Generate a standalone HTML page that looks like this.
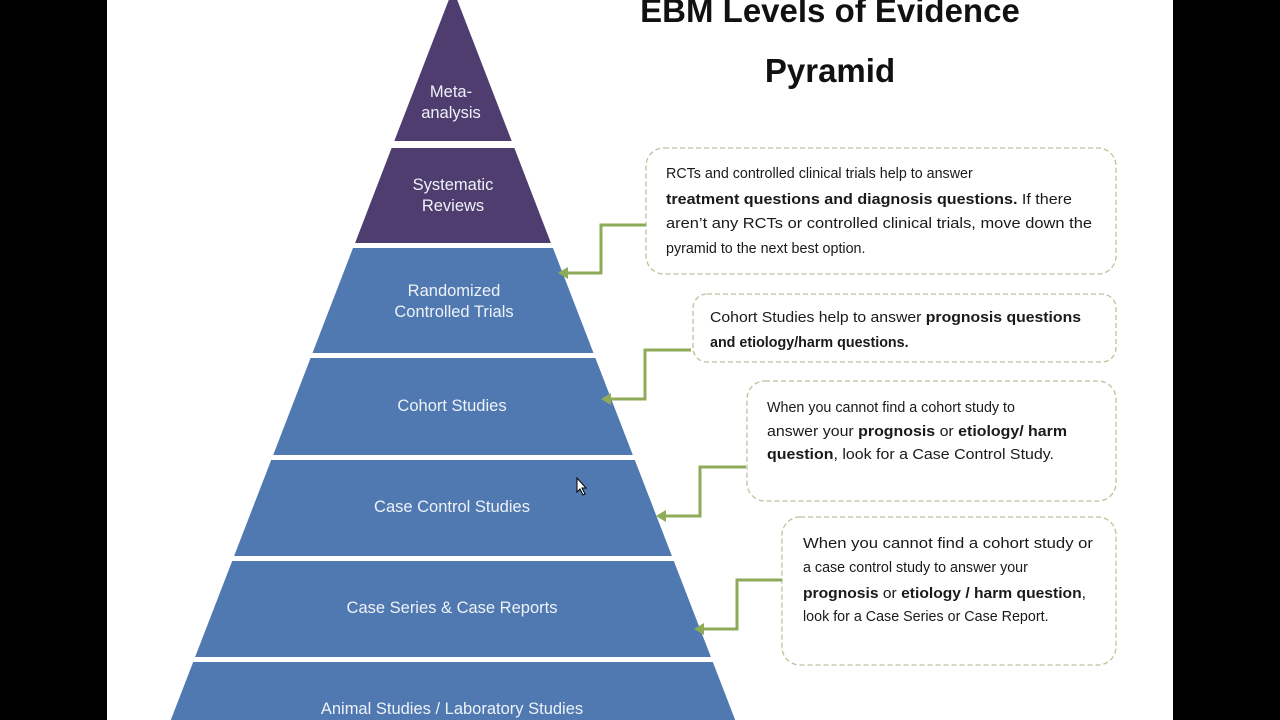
<!DOCTYPE html>
<html><head><meta charset="utf-8"><style>
html,body{margin:0;padding:0;background:#000;}
svg{display:block}
text{font-family:"Liberation Sans",sans-serif;}
.t{fill:#eef2f8;font-size:16.5px;text-anchor:middle}
.b{fill:#1a1a1a;font-size:14.3px}
.bb{font-weight:bold}
</style></head><body>
<svg width="1280" height="720" viewBox="0 0 1280 720" xmlns="http://www.w3.org/2000/svg">
<rect x="0" y="0" width="1280" height="720" fill="#000"/>
<rect x="107" y="0" width="1066" height="720" fill="#fff"/>
<!-- pyramid -->
<g fill="#4e3d6e">
<polygon points="453,-11 511.7,141 394.3,141"/>
<polygon points="391.6,148 514.4,148 550.9,243 355.1,243"/>
</g>
<g fill="#4f79b0">
<polygon points="353,248 553,248 593.5,353 312.5,353"/>
<polygon points="310.6,358 595.4,358 632.8,455 273.2,455"/>
<polygon points="271.2,460 634.8,460 671.9,556 234.1,556"/>
<polygon points="232.2,561 673.8,561 710.9,657 195.1,657"/>
<polygon points="193.2,662 712.8,662 735.2,720 170.8,720"/>
</g>
<text class="t" x="451" y="97">Meta-</text>
<text class="t" x="451" y="118">analysis</text>
<text class="t" x="453" y="190">Systematic</text>
<text class="t" x="453" y="211">Reviews</text>
<text class="t" x="454" y="296">Randomized</text>
<text class="t" x="454" y="317">Controlled Trials</text>
<text class="t" x="452" y="411">Cohort Studies</text>
<text class="t" x="452" y="512">Case Control Studies</text>
<text class="t" x="452" y="613">Case Series &amp; Case Reports</text>
<text class="t" x="452" y="714">Animal Studies / Laboratory Studies</text>
<!-- title -->
<text x="830" y="22" text-anchor="middle" font-size="33" font-weight="bold" fill="#111">EBM Levels of Evidence</text>
<text x="830" y="82" text-anchor="middle" font-size="33" font-weight="bold" fill="#111">Pyramid</text>
<!-- boxes -->
<g fill="#fff" stroke="#b9c49a" stroke-width="1.3" stroke-dasharray="5,3">
<rect x="646" y="148" width="470" height="126" rx="18"/>
<rect x="693" y="294" width="423" height="68" rx="14"/>
<rect x="747" y="381" width="369" height="120" rx="18"/>
<rect x="782" y="517" width="334" height="148" rx="18"/>
</g>
<!-- connectors -->
<g fill="none" stroke="#8eab58" stroke-width="3">
<polyline points="646,225 601,225 601,273 566,273"/>
<polyline points="691,350 645,350 645,399 609,399"/>
<polyline points="746,467 700,467 700,516 664,516"/>
<polyline points="782,580 737,580 737,629 702,629"/>
</g>
<g fill="#8eab58">
<polygon points="558,273 568,267 568,279"/>
<polygon points="601,399 611,393 611,405"/>
<polygon points="656,516 666,510 666,522"/>
<polygon points="694,629 704,623 704,635"/>
</g>
<!-- box text -->
<text class="b" x="666" y="178">RCTs and controlled clinical trials help to answer</text>
<text class="b" x="666" y="204" textLength="406" lengthAdjust="spacingAndGlyphs"><tspan class="bb">treatment questions and diagnosis  questions.</tspan> If there</text>
<text class="b" x="666" y="228" textLength="426" lengthAdjust="spacingAndGlyphs">aren’t any RCTs or controlled clinical trials, move down the</text>
<text class="b" x="666" y="253">pyramid to the next best option.</text>
<text class="b" x="710" y="322" textLength="371" lengthAdjust="spacingAndGlyphs">Cohort Studies help to answer <tspan class="bb">prognosis questions</tspan></text>
<text class="b" x="710" y="347" class="b"><tspan class="bb">and etiology/harm questions.</tspan></text>
<text class="b" x="767" y="412">When you cannot find a cohort study to</text>
<text class="b" x="767" y="436" textLength="300" lengthAdjust="spacingAndGlyphs">answer your <tspan class="bb">prognosis</tspan> or <tspan class="bb">etiology/ harm</tspan></text>
<text class="b" x="767" y="459" textLength="287" lengthAdjust="spacingAndGlyphs"><tspan class="bb">question</tspan>, look for a Case Control Study.</text>
<text class="b" x="803" y="548" textLength="290" lengthAdjust="spacingAndGlyphs">When you cannot find a cohort study or</text>
<text class="b" x="803" y="572">a case control study to answer your</text>
<text class="b" x="803" y="598" textLength="283" lengthAdjust="spacingAndGlyphs"><tspan class="bb">prognosis</tspan> or <tspan class="bb">etiology / harm question</tspan>,</text>
<text class="b" x="803" y="621">look for a Case Series or Case Report.</text>
<!-- cursor -->
<polygon points="577,478 577,492 580,489 583,495 585,494 582,488 586,488" fill="#fff" stroke="#000" stroke-width="1"/>
</svg>
</body></html>
